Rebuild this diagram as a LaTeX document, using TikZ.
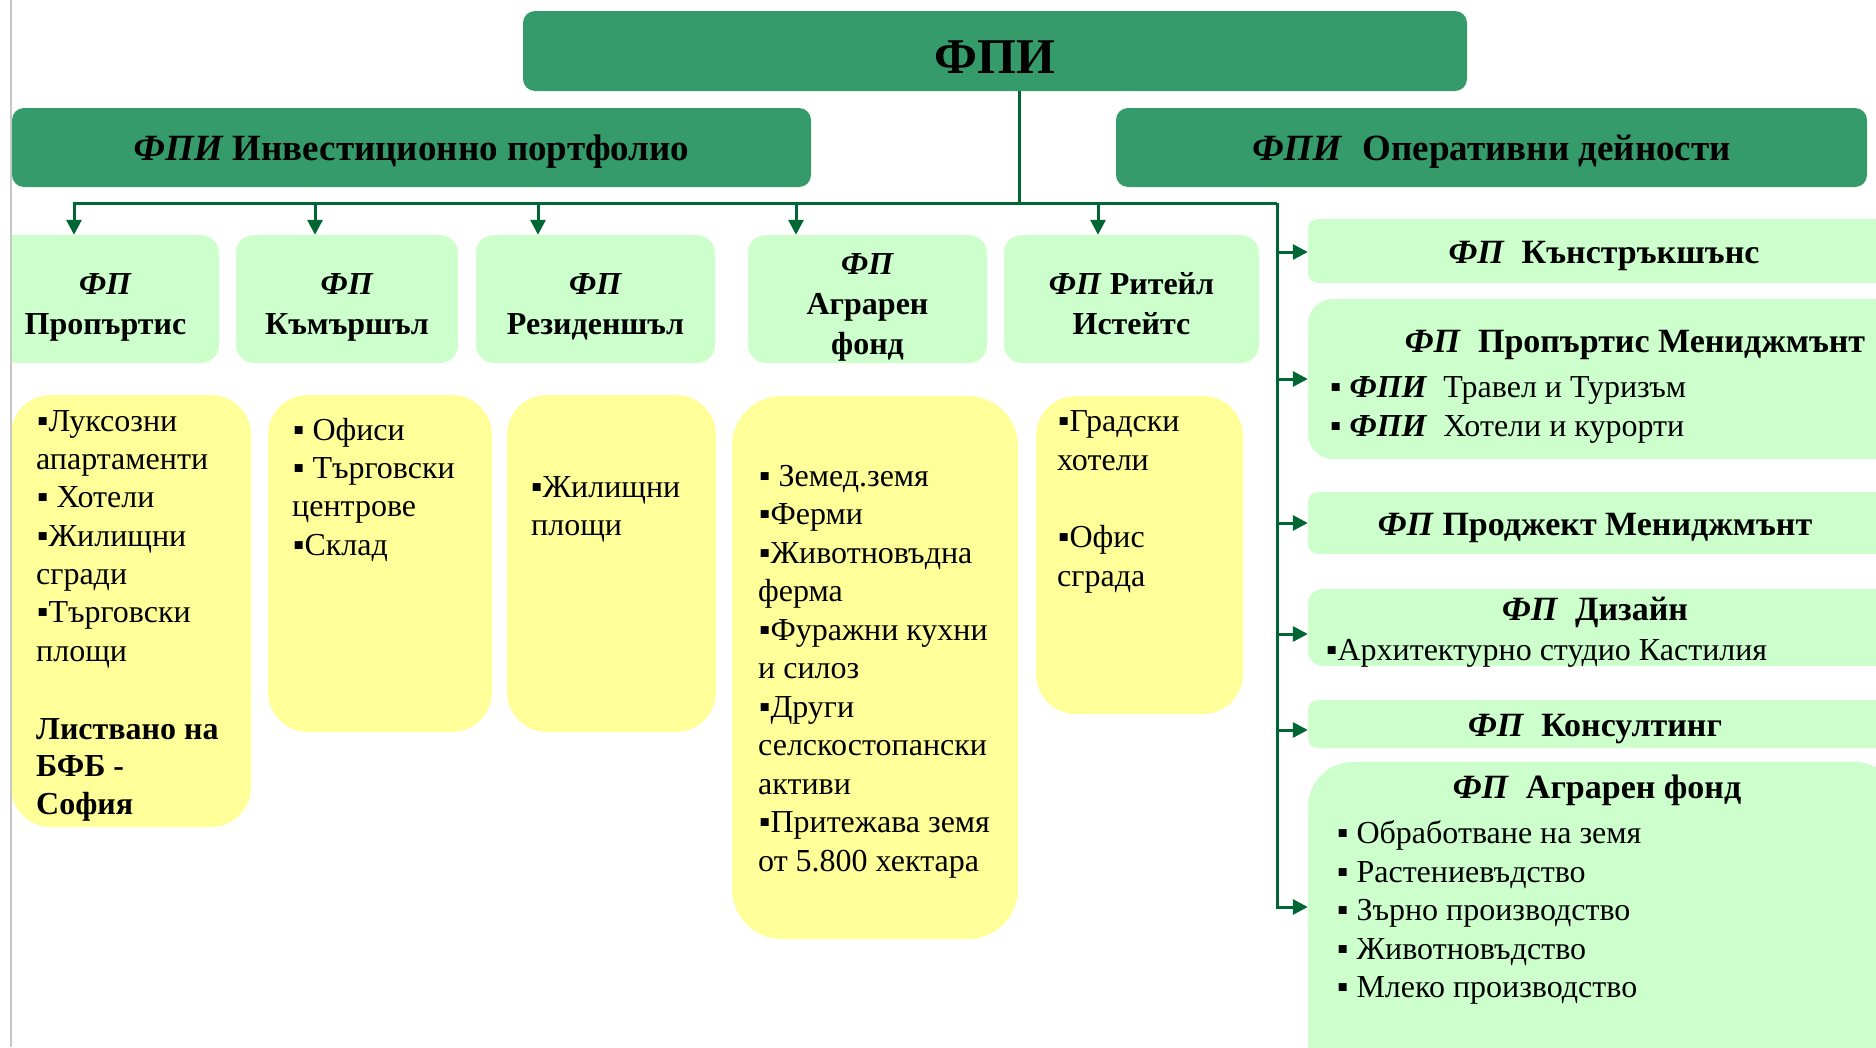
\documentclass[tikz,border=0pt]{standalone}
\usepackage{fontspec}
\setmainfont{Liberation Serif}
\usetikzlibrary{arrows.meta}

\definecolor{headgreen}{RGB}{53,155,106}
\definecolor{palegreen}{RGB}{204,255,204}
\definecolor{paleyellow}{RGB}{255,255,153}
\definecolor{linkgreen}{RGB}{0,102,51}

\newcommand{\liftline}{\rule{0pt}{31pt}}

\tikzset{
  headbox/.style={fill=headgreen, rounded corners=12, inner sep=0pt, text depth=0pt,
    font=\bfseries\fontsize{37}{44}\selectfont},
  fundbox/.style={fill=palegreen, rounded corners=18, inner sep=0pt, align=center, text depth=0pt,
    font=\bfseries\fontsize{32}{40}\selectfont},
  opbox/.style={fill=palegreen, inner sep=0pt, minimum width=592},
  assetbox/.style={fill=paleyellow, rounded corners=40, inner sep=0pt},
  item/.style={anchor=base west, inner sep=0pt, font=\fontsize{32}{38}\selectfont},
  optitle/.style={anchor=base, inner sep=0pt, font=\bfseries\fontsize{34}{40}\selectfont},
  link/.style={draw=linkgreen, line width=3pt},
  arr/.style={link, -{Triangle[length=15pt,width=15pt]}},
}

\begin{document}
\begin{tikzpicture}[x=1pt,y=-1pt]
  \useasboundingbox (0,0) rectangle (1876,1047);
  \fill[white] (0,0) rectangle (1876,1047);
  \draw[gray!45, line width=1.5pt] (11,0) -- (11,1047); % slide edge
  \clip (11.8,0) rectangle (1876,1047);

  % top and section heads
  \node[headbox, minimum width=944, minimum height=80, text height=44pt,
        font=\bfseries\fontsize{50}{60}\selectfont] (fpi) at (995,51) {ФПИ};
  \node[headbox, minimum width=799, minimum height=79] (invest) at (411.5,147.5)
    {\textit{ФПИ} Инвестиционно портфолио};
  \node[headbox, minimum width=751, minimum height=79] (oper) at (1491.5,147.5)
    {\textit{ФПИ}\hspace{0.55em}Оперативни дейности};

  % funds of the portfolio
  \node[fundbox, minimum width=227, minimum height=128] (p1) at (105.5,299) {\liftline\textit{ФП}\\Пропъртис};
  \node[fundbox, minimum width=222, minimum height=128] (p2) at (347,299) {\liftline\textit{ФП}\\Къмършъл};
  \node[fundbox, minimum width=239, minimum height=128] (p3) at (595.5,299) {\liftline\textit{ФП}\\Резиденшъл};
  \node[fundbox, minimum width=239, minimum height=128] (p4) at (867.5,299) {\liftline\textit{ФП}\\Аграрен\\фонд};
  \node[fundbox, minimum width=255, minimum height=128] (p5) at (1131.5,299) {\liftline\textit{ФП} Ритейл\\Истейтс};

  % assets
  \node[assetbox, minimum width=240, minimum height=432] (a1) at (131,611) {};
  \node[assetbox, minimum width=224, minimum height=337] (a2) at (380,563.5) {};
  \node[assetbox, minimum width=209, minimum height=337] (a3) at (611.5,563.5) {};
  \node[assetbox, rounded corners=50, minimum width=286, minimum height=543] (a4) at (875,667.5) {};
  \node[assetbox, minimum width=207, minimum height=318] (a5) at (1139.5,555) {};

  \node[item] (a1l1) at (37,431) {▪Луксозни};
  \node[item] (a1l2) at (36,469) {апартаменти};
  \node[item] (a1l3) at (37,507) {▪ Хотели};
  \node[item] (a1l4) at (37,546) {▪Жилищни};
  \node[item] (a1l5) at (36,584) {сгради};
  \node[item] (a1l6) at (37,622) {▪Търговски};
  \node[item] (a1l7) at (36,661) {площи};
  \node[item, font=\bfseries\fontsize{32}{38}\selectfont] (a1l8) at (36,739) {Листвано на};
  \node[item, font=\bfseries\fontsize{32}{38}\selectfont] (a1l9) at (36,776) {БФБ -};
  \node[item, font=\bfseries\fontsize{32}{38}\selectfont] (a1l10) at (36,814) {София};

  \node[item] (a2l1) at (293,440) {▪ Офиси};
  \node[item] (a2l2) at (293,478) {▪ Търговски};
  \node[item] (a2l3) at (292,516) {центрове};
  \node[item] (a2l4) at (293,555) {▪Склад};

  \node[item] (a3l1) at (531,497) {▪Жилищни};
  \node[item] (a3l2) at (531,535) {площи};

  \node[item] (a4l1) at (759,486) {▪ Земед.земя};
  \node[item] (a4l2) at (759,524.5) {▪Ферми};
  \node[item] (a4l3) at (759,563) {▪Животновъдна};
  \node[item] (a4l4) at (758,601.5) {ферма};
  \node[item] (a4l5) at (759,640) {▪Фуражни кухни};
  \node[item] (a4l6) at (758,678.5) {и силоз};
  \node[item] (a4l7) at (759,717) {▪Други};
  \node[item] (a4l8) at (758,755.5) {селскостопански};
  \node[item] (a4l9) at (758,794) {активи};
  \node[item] (a4l10) at (759,832.5) {▪Притежава земя};
  \node[item] (a4l11) at (758,871) {от 5.800 хектара};

  \node[item] (a5l1) at (1058,431) {▪Градски};
  \node[item] (a5l2) at (1057,470) {хотели};
  \node[item] (a5l3) at (1058,547) {▪Офис};
  \node[item] (a5l4) at (1057,586) {сграда};

  % operating companies
  \node[opbox, rounded corners=10, minimum height=64] (c1) at (1604,251) {};
  \node[opbox, rounded corners=25, minimum height=160] (c2) at (1604,379) {};
  \node[opbox, rounded corners=10, minimum height=62] (c3) at (1604,523) {};
  \node[opbox, rounded corners=15, minimum height=77] (c4) at (1604,627.5) {};
  \node[opbox, rounded corners=10, minimum height=48] (c5) at (1604,724) {};
  \node[opbox, rounded corners=45, minimum height=338] (c6) at (1604,931) {};

  \node[optitle] (c1t) at (1604,263) {\textit{ФП}\hspace{0.5em}Кънстръкшънс};
  \node[optitle] (c2t) at (1635,352) {\textit{ФП}\hspace{0.5em}Пропъртис Мениджмънт};
  \node[item] (c2l1) at (1330,397) {▪ \textbf{\textit{ФПИ}}\hspace{0.5em}Травел и Туризъм};
  \node[item] (c2l2) at (1330,436) {▪ \textbf{\textit{ФПИ}}\hspace{0.5em}Хотели и курорти};
  \node[optitle] (c3t) at (1595,535) {\textit{ФП} Проджект Мениджмънт};
  \node[optitle] (c4t) at (1595,620) {\textit{ФП}\hspace{0.5em}Дизайн};
  \node[item] (c4l1) at (1326,660) {▪Архитектурно студио Кастилия};
  \node[optitle] (c5t) at (1595,736) {\textit{ФП}\hspace{0.5em}Консултинг};
  \node[optitle] (c6t) at (1597,798) {\textit{ФП}\hspace{0.5em}Аграрен фонд};
  \node[item] (c6l1) at (1337,843) {▪ Обработване на земя};
  \node[item] (c6l2) at (1337,882) {▪ Растениевъдство};
  \node[item] (c6l3) at (1337,920) {▪ Зърно производство};
  \node[item] (c6l4) at (1337,959) {▪ Животновъдство};
  \node[item] (c6l5) at (1337,997) {▪ Млеко производство};

  % connectors
  \coordinate (hub) at (1019,203);
  \coordinate (corner) at (1277,203);
  \coordinate (d1) at (74,203);
  \coordinate (d2) at (315,203);
  \coordinate (d3) at (538,203);
  \coordinate (d4) at (796,203);
  \coordinate (d5) at (1098,203);
  \coordinate (e1) at (1277,252);
  \coordinate (e2) at (1277,379);
  \coordinate (e3) at (1277,523);
  \coordinate (e4) at (1277,634);
  \coordinate (e5) at (1277,730);
  \coordinate (e6) at (1277,907);

  \draw[link] (hub |- fpi.south) -- (hub);
  \draw[arr] (corner) -- (d1) -- (d1 |- p1.north);
  \draw[arr] (d2) -- (d2 |- p2.north);
  \draw[arr] (d3) -- (d3 |- p3.north);
  \draw[arr] (d4) -- (d4 |- p4.north);
  \draw[arr] (d5) -- (d5 |- p5.north);
  \draw[arr] (corner) -- (e6) -- (e6 -| c6.west);
  \draw[arr] (e1) -- (e1 -| c1.west);
  \draw[arr] (e2) -- (e2 -| c2.west);
  \draw[arr] (e3) -- (e3 -| c3.west);
  \draw[arr] (e4) -- (e4 -| c4.west);
  \draw[arr] (e5) -- (e5 -| c5.west);
\end{tikzpicture}
\end{document}
